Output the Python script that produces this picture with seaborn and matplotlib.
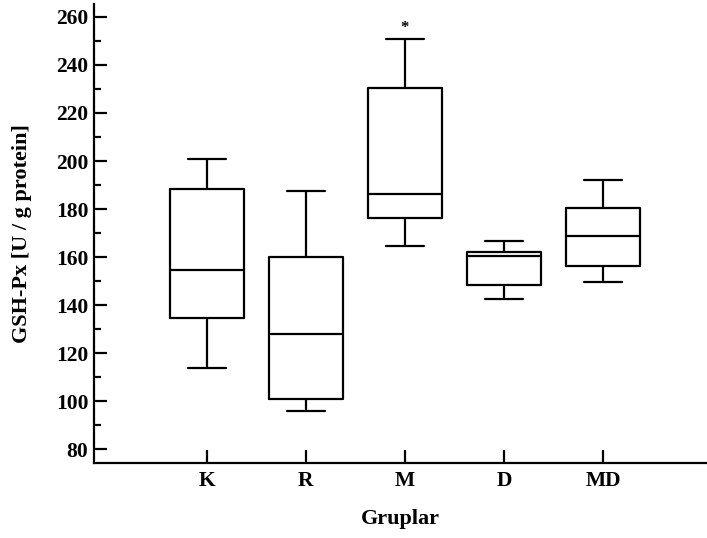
import numpy as np
import pandas as pd
import matplotlib
matplotlib.use("Agg")
import matplotlib.pyplot as plt
from matplotlib.ticker import MultipleLocator
import seaborn as sns

# ------- values -------
groups = ["K", "R", "M", "D", "MD"]
whisker_low = [113.8, 96.0, 164.7, 142.4, 149.7]
q1 = [134.4, 100.8, 176.3, 148.3, 156.4]
median = [154.6, 127.9, 186.3, 160.4, 168.6]
q3 = [188.3, 160.1, 230.5, 162.2, 180.5]
whisker_high = [200.7, 187.6, 250.7, 166.5, 192.0]
star_group = "M"
# -----------------------------------------

# five numbers per group -> quartiles come out exactly with linear percentiles
rows = []
for i, g in enumerate(groups):
    for v in (whisker_low[i], q1[i], median[i], q3[i], whisker_high[i]):
        rows.append({"group": g, "value": v})
df = pd.DataFrame(rows)

sns.set_theme(style="ticks")
plt.rcParams["font.family"] = ["Liberation Serif", "DejaVu Serif"]
plt.rcParams["font.weight"] = "bold"
for key in ("text.color", "axes.labelcolor", "xtick.color", "ytick.color"):
    plt.rcParams[key] = "black"

fig = plt.figure(figsize=(7.07, 5.38), dpi=100)
ax = fig.add_axes([94 / 707, 1 - 463 / 538, 1 - 94 / 707, (463 - 4) / 538])

line = dict(color="black", linewidth=1.6)
sns.boxplot(
    data=df, x="group", y="value", order=groups, ax=ax,
    whis=(0, 100), width=0.75, fill=False, color="black",
    linewidth=1.6, showfliers=False,
    boxprops=line, medianprops=line, whiskerprops=line,
    capprops=line, capwidths=0.38,
)

idx = groups.index(star_group)
ax.text(idx, whisker_high[idx] + 1.5, "*", ha="center", va="bottom",
        fontsize=12, fontweight="bold")

ax.set_xlim(-1.14, 5.05)
ax.set_ylim(74.2, 265.4)
ax.yaxis.set_major_locator(MultipleLocator(20))
ax.yaxis.set_minor_locator(MultipleLocator(10))
ax.set_yticks(np.arange(80, 261, 20))

sns.despine(ax=ax)
for s in ("left", "bottom"):
    ax.spines[s].set_linewidth(1.6)
    ax.spines[s].set_color("black")

ax.tick_params(axis="both", which="major", direction="in", length=9.5,
               width=1.6, color="black", labelsize=15.5, pad=4)
ax.tick_params(axis="y", which="minor", direction="in", length=5,
               width=1.6, color="black")
ax.tick_params(axis="x", pad=6)
for lab in ax.get_xticklabels() + ax.get_yticklabels():
    lab.set_fontweight("bold")

ax.set_xlabel("Gruplar", fontsize=16, fontweight="bold", labelpad=12.5)
ax.set_ylabel("GSH-Px [U / g protein]", fontsize=16, fontweight="bold", labelpad=17)

fig.savefig("out.png", dpi=100)
